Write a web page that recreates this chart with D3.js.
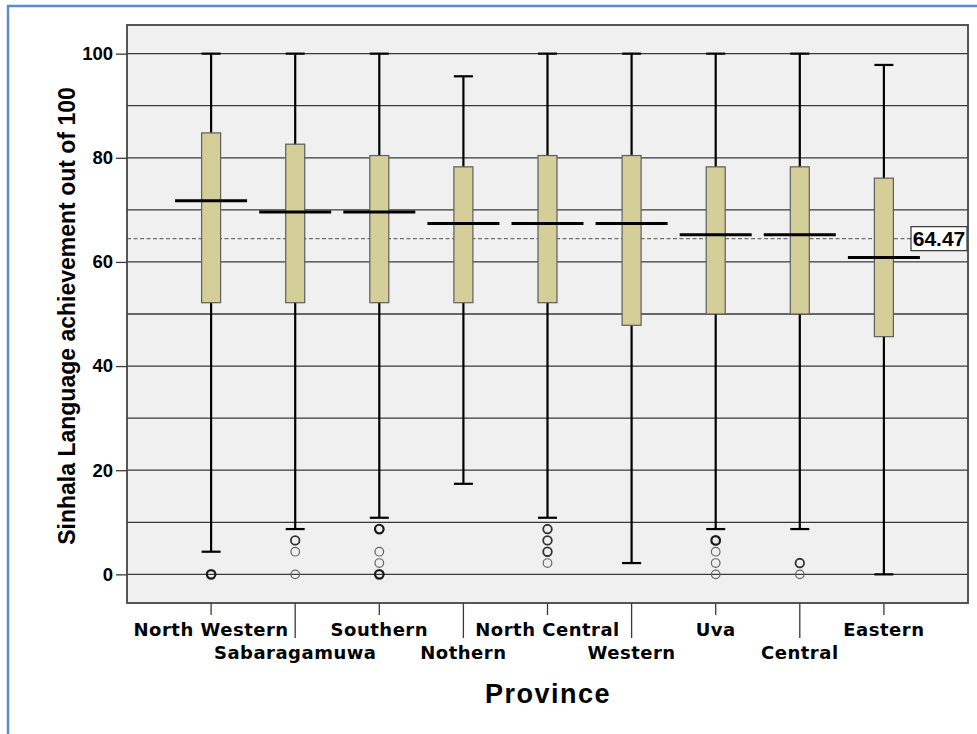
<!DOCTYPE html>
<html>
<head>
<meta charset="utf-8">
<script src="https://cdn.jsdelivr.net/npm/d3@7"></script>
<style>
  html, body { margin: 0; padding: 0; background: #ffffff; }
  svg { display: block; }
</style>
</head>
<body>
<svg id="chart" width="977" height="734"></svg>
<script>
// Sinhala language achievement (out of 100) by province
const provinces = ["North Western", "Sabaragamuwa", "Southern", "Nothern", "North Central",
                   "Western", "Uva", "Central", "Eastern"];
const whiskerLow  = [4.35, 8.70, 10.87, 17.39, 10.87, 2.17, 8.70, 8.70, 0.00];
const q1Values    = [52.17, 52.17, 52.17, 52.17, 52.17, 47.83, 50.00, 50.00, 45.65];
const medians     = [71.74, 69.57, 69.57, 67.39, 67.39, 67.39, 65.22, 65.22, 60.87];
const q3Values    = [84.78, 82.61, 80.43, 78.26, 80.43, 80.43, 78.26, 78.26, 76.09];
const whiskerHigh = [100, 100, 100, 95.65, 100, 100, 100, 100, 97.83];
// outliers per province: [value, number of overlapping cases]
const outliers = [
  [[0, 3]],
  [[6.52, 2], [4.35, 1], [0, 1]],
  [[8.70, 3], [4.35, 1], [2.17, 1], [0, 3]],
  [],
  [[8.70, 2], [6.52, 2], [4.35, 2], [2.17, 1]],
  [],
  [[6.52, 3], [4.35, 1], [2.17, 1], [0, 1]],
  [[2.17, 2], [0, 1]],
  []
];
const overallMean = 64.47;
const yTicks = [0, 20, 40, 60, 80, 100];
const yGrid = [0, 10, 20, 30, 40, 50, 60, 70, 80, 90, 100];

const svg = d3.select("#chart");

// outer frame of the figure
svg.append("path")
  .attr("d", "M8,734 L8,6 L977,6")
  .attr("fill", "none")
  .attr("stroke", "#5b8bd2")
  .attr("stroke-width", 2.5);

const plotLeft = 127, plotRight = 968, plotTop = 25, plotBottom = 603;

const x = d3.scalePoint().domain(provinces).range([plotLeft, plotRight]).padding(1);
const y = d3.scaleLinear().domain([-5.5, 105.5]).range([plotBottom, plotTop]);

// plot background
svg.append("rect")
  .attr("x", plotLeft).attr("y", plotTop)
  .attr("width", plotRight - plotLeft).attr("height", plotBottom - plotTop)
  .attr("fill", "#f0f0f0");

// horizontal grid
svg.append("g").selectAll("line").data(yGrid).join("line")
  .attr("x1", plotLeft).attr("x2", plotRight)
  .attr("y1", d => y(d)).attr("y2", d => y(d))
  .attr("stroke", "#3a3a3a").attr("stroke-width", 1.3);

// overall mean reference line
const meanBoxW = 56, meanBoxH = 24;
svg.append("line")
  .attr("x1", plotLeft).attr("x2", plotRight - meanBoxW - 1)
  .attr("y1", y(overallMean)).attr("y2", y(overallMean))
  .attr("stroke", "#6e6e6e").attr("stroke-width", 1.2)
  .attr("stroke-dasharray", "4,2.5");

// y axis
const yAxis = d3.axisLeft(y).tickValues(yTicks).tickSize(11).tickPadding(3).tickFormat(d3.format("d"));
const gy = svg.append("g").attr("transform", `translate(${plotLeft},0)`).call(yAxis);
gy.select(".domain").remove();
gy.selectAll(".tick line").attr("stroke", "#3a3a3a").attr("stroke-width", 1.3);
gy.selectAll(".tick text")
  .attr("fill", "#000")
  .style("font-family", "'Liberation Sans', Arial, sans-serif")
  .style("font-weight", "bold")
  .style("font-size", "18.5px");

// x axis: alternating short / long ticks with two label rows
const gx = svg.append("g").attr("transform", `translate(0,${plotBottom})`);
const xt = gx.selectAll("g").data(provinces).join("g")
  .attr("transform", d => `translate(${x(d)},0)`);
xt.append("line")
  .attr("y1", 0).attr("y2", (d, i) => i % 2 === 0 ? 12 : 35)
  .attr("stroke", "#3a3a3a").attr("stroke-width", 1.3);
xt.append("text")
  .attr("y", (d, i) => i % 2 === 0 ? 33 : 55.5)
  .attr("text-anchor", "middle")
  .style("font-family", "'DejaVu Sans', sans-serif")
  .style("font-weight", "bold")
  .style("font-size", "18px")
  .style("letter-spacing", "0.5px")
  .attr("fill", "#000")
  .text(d => d);

// boxes
const boxW = 19, capW = 19, medW = 72;
const data = provinces.map((p, i) => ({
  p, lo: whiskerLow[i], q1: q1Values[i], med: medians[i], q3: q3Values[i], hi: whiskerHigh[i], out: outliers[i]
}));
const g = svg.append("g").selectAll("g").data(data).join("g")
  .attr("transform", d => `translate(${x(d.p)},0)`);

// whiskers
g.append("line").attr("x1", 0).attr("x2", 0)
  .attr("y1", d => y(d.hi)).attr("y2", d => y(d.lo))
  .attr("stroke", "#000").attr("stroke-width", 2.2);
g.append("line").attr("x1", -capW / 2).attr("x2", capW / 2)
  .attr("y1", d => y(d.hi)).attr("y2", d => y(d.hi))
  .attr("stroke", "#000").attr("stroke-width", 2.2);
g.append("line").attr("x1", -capW / 2).attr("x2", capW / 2)
  .attr("y1", d => y(d.lo)).attr("y2", d => y(d.lo))
  .attr("stroke", "#000").attr("stroke-width", 2.2);

// interquartile box
g.append("rect")
  .attr("x", -boxW / 2).attr("width", boxW)
  .attr("y", d => y(d.q3)).attr("height", d => y(d.q1) - y(d.q3))
  .attr("fill", "#d4cf98").attr("stroke", "#5e5e5e").attr("stroke-width", 1.2);

// median
g.append("line").attr("x1", -medW / 2).attr("x2", medW / 2)
  .attr("y1", d => y(d.med)).attr("y2", d => y(d.med))
  .attr("stroke", "#000").attr("stroke-width", 3);

// outliers
g.selectAll("circle").data(d => d.out).join("circle")
  .attr("cx", 0).attr("cy", d => y(d[0])).attr("r", 4.3)
  .attr("fill", "none")
  .attr("stroke", d => d[1] >= 3 ? "#1a1a1a" : d[1] === 2 ? "#333" : "#666")
  .attr("stroke-width", d => d[1] >= 3 ? 2.2 : d[1] === 2 ? 1.8 : 1.2);

// mean label
svg.append("rect")
  .attr("x", plotRight - meanBoxW - 1).attr("y", y(overallMean) - 12)
  .attr("width", meanBoxW).attr("height", meanBoxH)
  .attr("fill", "#fff").attr("stroke", "#333").attr("stroke-width", 1.2);
svg.append("text")
  .attr("x", plotRight - meanBoxW / 2 - 1).attr("y", y(overallMean) + 7.5)
  .attr("text-anchor", "middle")
  .style("font-family", "'Liberation Sans', Arial, sans-serif")
  .style("font-weight", "bold").style("font-size", "21px")
  .attr("fill", "#000")
  .text(d3.format(".2f")(overallMean));

// plot frame
svg.append("rect")
  .attr("x", plotLeft).attr("y", plotTop)
  .attr("width", plotRight - plotLeft).attr("height", plotBottom - plotTop)
  .attr("fill", "none").attr("stroke", "#444").attr("stroke-width", 1.8);

// axis titles
svg.append("text")
  .attr("transform", `translate(75,${(y(0) + y(100)) / 2 + 2}) rotate(-90)`)
  .attr("text-anchor", "middle")
  .style("font-family", "'Liberation Sans', Arial, sans-serif")
  .style("font-weight", "bold").style("font-size", "23px")
  .attr("fill", "#000")
  .text("Sinhala Language achievement out of 100");

svg.append("text")
  .attr("x", 548).attr("y", 703)
  .attr("text-anchor", "middle")
  .style("font-family", "'Liberation Sans', Arial, sans-serif")
  .style("font-weight", "bold").style("font-size", "27px")
  .style("letter-spacing", "1.5px")
  .attr("fill", "#000")
  .text("Province");
</script>
</body>
</html>
